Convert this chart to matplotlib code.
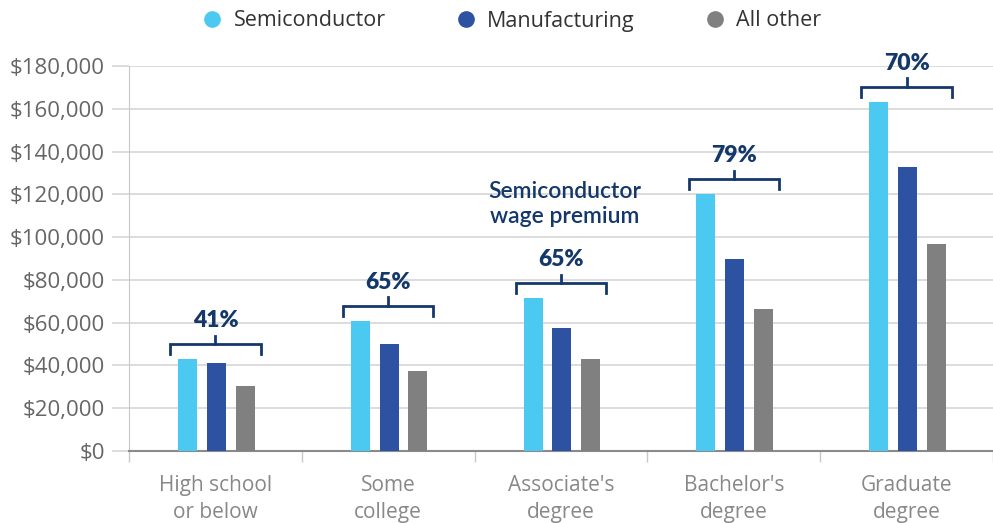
import matplotlib.pyplot as plt
import matplotlib.ticker as mticker
import numpy as np

categories = ["High school\nor below", "Some\ncollege", "Associate's\ndegree", "Bachelor's\ndegree", "Graduate\ndegree"]
semiconductor = [43000, 60800, 71500, 120100, 163200]
manufacturing = [41100, 50000, 57500, 89800, 132800]
all_other = [30400, 37400, 43000, 66400, 96800]
premium = ["41%", "65%", "65%", "79%", "70%"]

series = ["Semiconductor", "Manufacturing", "All other"]
colors = ["#4bc9f1", "#2d52a2", "#808080"]
navy = "#15386b"

plt.rcParams['font.family'] = ['Open Sans', 'DejaVu Sans']

W, H = 993, 523
fig = plt.figure(figsize=(W / 100, H / 100), dpi=100)
ax = fig.add_axes([129 / W, (H - 451) / H, (W - 129) / W, (451 - 66) / H])

x = np.arange(len(categories))
step = 0.167
width = 0.11
for k, (vals, c) in enumerate(zip([semiconductor, manufacturing, all_other], colors)):
    ax.bar(x + (k - 1) * step + 0.005, vals, width=width, color=c, zorder=3)

ax.set_xlim(-0.5, -0.5 + (W - 129) / 174)
ax.set_ylim(0, 180000)
ax.yaxis.set_major_locator(mticker.MultipleLocator(20000))
ax.yaxis.set_major_formatter(mticker.FuncFormatter(lambda v, p: "${:,.0f}".format(v)))
ax.grid(axis='y', color='#d6d6d6', linewidth=1.2, zorder=0)

for s in ['top', 'right']:
    ax.spines[s].set_visible(False)
ax.spines['left'].set_color('#c8c8c8')
ax.spines['bottom'].set_color('#8a8a8a')
ax.spines['bottom'].set_linewidth(1.5)

ax.tick_params(axis='y', length=12.5, color='#d6d6d6', width=1.2, labelsize=16, labelcolor='#666666', pad=5)
ax.set_xticks(x)
ax.set_xticklabels(categories, fontsize=15, color='#888888', linespacing=1.4)
ax.tick_params(axis='x', length=0, pad=17)
ax.set_xticks(np.arange(len(categories) + 1) - 0.5, minor=True)
ax.tick_params(axis='x', which='minor', length=8, color='#c8c8c8', width=1)

# premium brackets
left = x - step - width / 2 - 0.04
right = x + step + width / 2 + 0.04
for i in range(len(categories)):
    top = semiconductor[i] + 7000
    ax.plot([left[i], left[i], right[i], right[i]], [top - 4700, top, top, top - 4700],
            color=navy, lw=2, solid_joinstyle='miter', zorder=4)
    ax.plot([x[i], x[i]], [top, top + 4000], color=navy, lw=2, zorder=4)
    ax.text(x[i], top + 6000, premium[i], ha='center', va='bottom', fontsize=16.5,
            fontweight='heavy', color=navy, family=['Lato', 'DejaVu Sans'])

ax.text(2.02, 104700, "Semiconductor\nwage premium", ha='center', va='bottom', fontsize=16.5,
        color=navy, linespacing=1.25, family=['Lato', 'DejaVu Sans'], fontweight='semibold')

# legend
handles = [plt.Line2D([], [], marker='o', linestyle='', markersize=11, color=c) for c in colors]
fig.legend(handles, series, loc='center', bbox_to_anchor=(0.515, 1 - 21 / H), ncol=3, frameon=False,
           fontsize=15.5, handlelength=1, handletextpad=0.5, columnspacing=3.2, labelcolor='#333333')

fig.savefig("out.png", dpi=100)
